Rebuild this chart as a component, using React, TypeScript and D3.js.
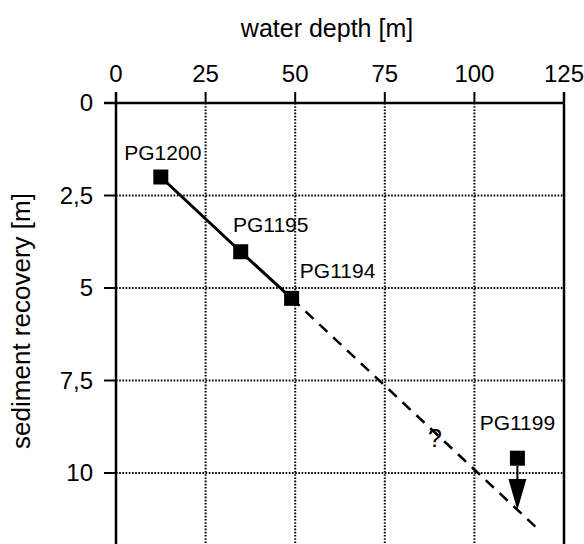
import React from "react";
import * as d3 from "d3";

const xTicks = [0, 25, 50, 75, 100, 125];
const yTicks = [0, 2.5, 5, 7.5, 10];
const yTickLabels = ["0", "2,5", "5", "7,5", "10"];

const stations = ["PG1200", "PG1195", "PG1194", "PG1199"];
const waterDepth = [12.5, 34.8, 49, 112];
const recovery = [2.0, 4.02, 5.28, 9.6];
const arrowTipRecovery = 11.0; // PG1199 minimum (arrow)

// label offsets (px) relative to marker
const labelDx = [2, 30, 46, 0];
const labelDy = [-17, -20, -20, -28];

// extrapolation dashed line (water depth, recovery)
const dashedX = [49, 117];
const dashedY = [5.28, 11.45];
const questionX = 89;
const questionY = 9.05;

const W = 584;
const H = 544;
const FONT = "'Liberation Sans', Arial, Helvetica, sans-serif";

export default function App() {
  const x = d3.scaleLinear().domain([0, 125]).range([116, 564]);
  const y = d3.scaleLinear().domain([0, 12.5]).range([103, 103 + 12.5 * 37]);
  const line = d3
    .line<number>()
    .x((_, i) => x(waterDepth[i]))
    .y((_, i) => y(recovery[i]));
  const solidPath = line([0, 1, 2]) as string;
  const dashPath = d3
    .line<number>()
    .x((_, i) => x(dashedX[i]))
    .y((_, i) => y(dashedY[i]))([0, 1]) as string;

  const grid = { stroke: "#000", strokeWidth: 2, strokeDasharray: "1.6,1.6" };
  const ms = 15;
  const i99 = 3;
  const ax = x(waterDepth[i99]);
  const aTop = y(recovery[i99]) + ms / 2;
  const aTip = y(arrowTipRecovery);
  const triH = 31;

  return (
    <svg
      width={W}
      height={H}
      style={{ position: "absolute", left: 0, top: 0, background: "#fff" }}
      fontFamily={FONT}
    >
      <rect x={0} y={0} width={W} height={H} fill="#fff" />
      {/* grid */}
      {xTicks.slice(1, -1).map((t) => (
        <line key={"gx" + t} x1={x(t)} x2={x(t)} y1={y(0)} y2={H + 10} {...grid} />
      ))}
      {yTicks.slice(1).map((t) => (
        <line key={"gy" + t} x1={x(0)} x2={x(125)} y1={y(t)} y2={y(t)} {...grid} />
      ))}
      {/* axes */}
      <line x1={x(0) - 12} x2={x(125)} y1={y(0)} y2={y(0)} stroke="#000" strokeWidth={2.4} />
      <line x1={x(0)} x2={x(0)} y1={y(0) - 11} y2={H + 10} stroke="#000" strokeWidth={2.5} />
      <line x1={x(125)} x2={x(125)} y1={y(0) - 11} y2={H + 10} stroke="#000" strokeWidth={2.5} />
      {xTicks.map((t) => (
        <g key={"xt" + t}>
          <line x1={x(t)} x2={x(t)} y1={y(0) - 11} y2={y(0)} stroke="#000" strokeWidth={2} />
          <text x={x(t)} y={82} textAnchor="middle" fontSize={24}>
            {t}
          </text>
        </g>
      ))}
      {yTicks.map((t, i) => (
        <g key={"yt" + t}>
          <line x1={x(0) - 12} x2={x(0)} y1={y(t)} y2={y(t)} stroke="#000" strokeWidth={2} />
          <text x={93} y={y(t)} dy="0.35em" textAnchor="end" fontSize={24}>
            {yTickLabels[i]}
          </text>
        </g>
      ))}
      <text x={327} y={37} textAnchor="middle" fontSize={25}>
        water depth [m]
      </text>
      <text
        transform={`translate(30,${321}) rotate(-90)`}
        textAnchor="middle"
        fontSize={26}
      >
        sediment recovery [m]
      </text>
      {/* lines */}
      <path d={dashPath} fill="none" stroke="#000" strokeWidth={2.5} strokeDasharray="11,8" />
      <path d={solidPath} fill="none" stroke="#000" strokeWidth={3} />
      <text x={x(questionX)} y={y(questionY)} dy="0.35em" textAnchor="middle" fontSize={25}>
        ?
      </text>
      {/* arrow */}
      <line x1={ax} x2={ax} y1={aTop} y2={aTip - triH} stroke="#000" strokeWidth={2} />
      <path
        d={`M${ax - 9},${aTip - triH} L${ax + 9},${aTip - triH} L${ax},${aTip} Z`}
        fill="#000"
      />
      {/* markers */}
      {stations.map((s, i) => (
        <g key={s}>
          <rect
            x={x(waterDepth[i]) - ms / 2}
            y={y(recovery[i]) - ms / 2}
            width={ms}
            height={ms}
            fill="#000"
          />
          <text
            x={x(waterDepth[i]) + labelDx[i]}
            y={y(recovery[i]) + labelDy[i]}
            textAnchor="middle"
            fontSize={21}
          >
            {s}
          </text>
        </g>
      ))}
    </svg>
  );
}
